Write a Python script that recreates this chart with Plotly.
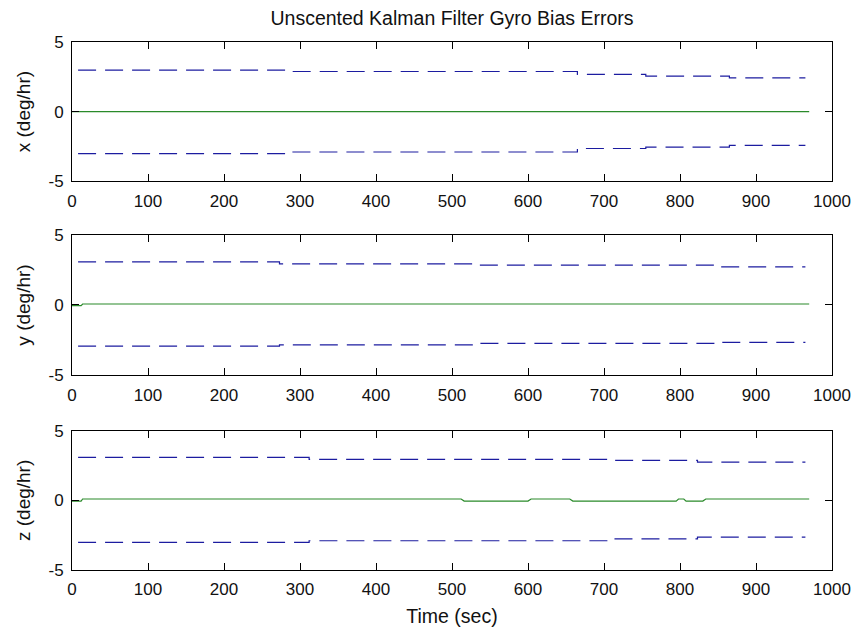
import plotly.graph_objects as go

# ---- data ----
title_text = "Unscented Kalman Filter Gyro Bias Errors"
y_labels = ["x (deg/hr)", "y (deg/hr)", "z (deg/hr)"]
x_title = "Time (sec)"
x_ticks = [0, 100, 200, 300, 400, 500, 600, 700, 800, 900, 1000]
y_ticks = [-5, 0, 5]

# bounds (3-sigma), step shapes: value holds from t[i] to t[i+1]
x_bound_t = [8, 285, 665, 755, 865, 965]
x_upper = [2.98, 2.88, 2.68, 2.55, 2.42, 2.42]
x_lower = [-3.02, -2.9, -2.65, -2.55, -2.42, -2.42]
x_err_t = [0, 970]
x_err = [0.0, 0.0]

y_bound_t = [8, 273, 532, 853, 965]
y_upper = [3.07, 2.93, 2.84, 2.72, 2.72]
y_lower = [-2.93, -2.84, -2.74, -2.66, -2.66]
y_err_t = [0, 12, 14, 970]
y_err = [-0.05, -0.05, 0.07, 0.07]

z_bound_t = [8, 312, 705, 823, 965]
z_upper = [3.09, 2.95, 2.88, 2.75, 2.75]
z_lower = [-3.02, -2.9, -2.76, -2.64, -2.64]
z_err_t = [0, 12, 14, 512, 516, 600, 604, 655, 659, 795, 798, 805, 808, 830, 834, 970]
z_err = [-0.05, -0.05, 0.1, 0.1, -0.05, -0.05, 0.1, 0.1, -0.05, -0.05, 0.1, 0.1,
         -0.05, -0.05, 0.1, 0.1]

panels = [
    (x_bound_t, x_upper, x_lower, x_err_t, x_err),
    (y_bound_t, y_upper, y_lower, y_err_t, y_err),
    (z_bound_t, z_upper, z_lower, z_err_t, z_err),
]

BLUE = "#1c1ca0"
GREEN = "#2a8a2a"
FONT = "Liberation Sans, Arial, sans-serif"

fig = go.Figure()

domains = [[0.7363, 1.0], [0.3691, 0.6347], [0.0, 0.2637]]

for i, (bt, up, lo, et, ev) in enumerate(panels):
    xa = "x" if i == 0 else f"x{i+1}"
    ya = "y" if i == 0 else f"y{i+1}"
    fig.add_trace(go.Scatter(x=et, y=ev, mode="lines", xaxis=xa, yaxis=ya,
                             line=dict(color=GREEN, width=1.2), showlegend=False))
    for arr in (up, lo):
        fig.add_trace(go.Scatter(x=bt, y=arr, mode="lines", xaxis=xa, yaxis=ya,
                                 line=dict(color=BLUE, width=1.2, dash="18px,9px", shape="hv"),
                                 showlegend=False))

axis_common = dict(
    showline=True, linecolor="black", linewidth=1, mirror="ticks",
    ticks="inside", ticklen=7, tickcolor="black", tickwidth=1,
    showgrid=False, zeroline=False,
    tickfont=dict(family=FONT, size=17, color="#111111"),
)

layout = dict(
    width=863, height=635,
    margin=dict(l=72, r=24, t=42, b=62),
    paper_bgcolor="white", plot_bgcolor="white",
    title=dict(text=title_text, x=0.5, xref="paper", xanchor="center", y=0.972, yanchor="middle",
               font=dict(family=FONT, size=19.5, color="#111111")),
)

for i in range(3):
    xk = "xaxis" if i == 0 else f"xaxis{i+1}"
    yk = "yaxis" if i == 0 else f"yaxis{i+1}"
    ya = "y" if i == 0 else f"y{i+1}"
    xa = "x" if i == 0 else f"x{i+1}"
    xd = dict(axis_common, range=[0, 1000], tickvals=x_ticks,
              ticktext=[str(v) for v in x_ticks], anchor=ya, domain=[0, 1], ticklabelstandoff=4)
    if i == 2:
        xd["title"] = dict(text=x_title, font=dict(family=FONT, size=19.5, color="#111111"), standoff=10)
    layout[xk] = xd
    layout[yk] = dict(axis_common, range=[-5, 5], tickvals=y_ticks,
                      ticktext=[str(v) for v in y_ticks], anchor=xa, domain=domains[i],
                      ticklabelstandoff=4,
                      title=dict(text=y_labels[i], font=dict(family=FONT, size=19, color="#111111"),
                                 standoff=12))

fig.update_layout(**layout)
fig.write_html("out.html")
